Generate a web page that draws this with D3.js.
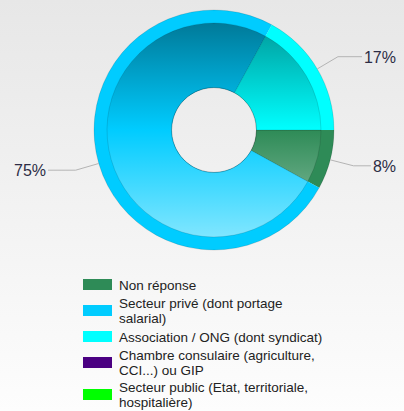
<!DOCTYPE html>
<html>
<head>
<meta charset="utf-8">
<script src="https://cdn.jsdelivr.net/npm/d3@7"></script>
<style>
  html, body { margin: 0; padding: 0; }
  body { width: 404px; height: 411px; overflow: hidden; }
  text { font-family: "Liberation Sans", Arial, sans-serif; }
</style>
</head>
<body>
<div id="chart"></div>
<script>
// Values
let categories = ["Non réponse", "Secteur privé (dont portage salarial)", "Association / ONG (dont syndicat)",
    "Chambre consulaire (agriculture, CCI...) ou GIP", "Secteur public (Etat, territoriale, hospitalière)"];
let values = [8, 75, 17, 0, 0];
let colors = ["#2e8b57", "#00ccff", "#00ffff", "#4b0082", "#00ff00"];
let legendLines = [
    ["Non réponse"],
    ["Secteur privé (dont portage", "salarial)"],
    ["Association / ONG (dont syndicat)"],
    ["Chambre consulaire (agriculture,", "CCI...) ou GIP"],
    ["Secteur public (Etat, territoriale,", "hospitalière)"]
];

let width = 404, height = 411;
let cx = 214, cy = 130, outerR = 120, rimR = 107, innerR = 42.5;

let svg = d3.select("#chart").append("svg")
    .attr("width", width)
    .attr("height", height);

let defs = svg.append("defs");

// Page background: soft grey gradient
let bg = defs.append("linearGradient").attr("id", "bg")
    .attr("x1", 0).attr("y1", 0).attr("x2", 0).attr("y2", 1);
bg.append("stop").attr("offset", 0).attr("stop-color", "#e7e7e7");
bg.append("stop").attr("offset", 1).attr("stop-color", "#fdfdfd");
svg.append("rect").attr("width", width).attr("height", height).attr("fill", "url(#bg)");

let data = categories.map((c, i) => ({ name: c, value: values[i], color: colors[i], lines: legendLines[i] }));

// One vertical gradient per slice (dark at the top, light at the bottom)
// coordinates are local to the translated pie group
data.forEach(function(d, i) {
    let g = defs.append("linearGradient").attr("id", `grad-${i}`)
        .attr("gradientUnits", "userSpaceOnUse")
        .attr("x1", 0).attr("y1", -rimR).attr("x2", 0).attr("y2", rimR);
    g.append("stop").attr("offset", 0).attr("stop-color", d3.interpolateRgb(d.color, "#000")(0.4));
    g.append("stop").attr("offset", 0.5).attr("stop-color", d.color);
    g.append("stop").attr("offset", 1).attr("stop-color", d3.interpolateRgb(d.color, "#fff")(0.5));
});

let pie = d3.pie()
    .sort(null)
    .value(d => d.value)
    .startAngle(Math.PI / 2)
    .endAngle(Math.PI / 2 + 2 * Math.PI);

let arcs = pie(data).filter(a => a.value > 0);

let outerArc = d3.arc().innerRadius(innerR).outerRadius(outerR);
let innerArc = d3.arc().innerRadius(innerR).outerRadius(rimR);

let pieG = svg.append("g").attr("transform", `translate(${cx}, ${cy})`);

// Rim in the base colour
pieG.selectAll("path.rim").data(arcs).enter()
    .append("path")
    .attr("class", "rim")
    .attr("d", outerArc)
    .attr("fill", d => d.data.color);

// Shaded inner part
pieG.selectAll("path.inner").data(arcs).enter()
    .append("path")
    .attr("class", "inner")
    .attr("d", innerArc)
    .attr("fill", d => `url(#grad-${data.indexOf(d.data)})`)
    .attr("stroke", "rgba(0,0,0,0.15)")
    .attr("stroke-width", 0.8);

// Thin outlines
pieG.append("circle").attr("r", outerR).attr("fill", "none")
    .attr("stroke", "rgba(0,0,0,0.12)").attr("stroke-width", 1);
pieG.append("circle").attr("r", innerR).attr("fill", "none")
    .attr("stroke", "rgba(0,0,0,0.2)").attr("stroke-width", 1);

// Percentage labels with elbow leader lines
let labelG = svg.append("g");
arcs.forEach(function(a) {
    let mid = (a.startAngle + a.endAngle) / 2;
    let sx = Math.sin(mid), sy = -Math.cos(mid);
    let p0 = [cx + outerR * sx, cy + outerR * sy];
    let p1 = [cx + 144 * sx, cy + 144 * sy];
    let right = sx > 0;
    let txt = labelG.append("text")
        .attr("x", right ? 396 : 14)
        .attr("y", p1[1] + 6)
        .attr("text-anchor", right ? "end" : "start")
        .attr("font-size", 16)
        .attr("fill", "#2d2d45")
        .text(Math.round(a.value) + "%");
    let tw = txt.node().getComputedTextLength();
    let xEnd = right ? 396 - tw - 2 : 14 + tw + 2;
    labelG.append("polyline")
        .attr("points", [p0, p1, [xEnd, p1[1]]].map(p => p.join(",")).join(" "))
        .attr("fill", "none")
        .attr("stroke", "#b4b4b4")
        .attr("stroke-width", 1);
});

// Legend
let lineH = 14.5;
let legend = svg.append("g");
let centerY = 284.5, prevH = null;
data.forEach(function(d, i) {
    let h = d.lines.length === 1 ? 20 : 32;
    if (prevH !== null) centerY += (prevH + h) / 2;
    prevH = h;
    let item = legend.append("g");
    item.append("rect")
        .attr("x", 83).attr("y", centerY - 5.5)
        .attr("width", 29).attr("height", 11)
        .attr("fill", d.color);
    let firstBase = centerY + 5 - (d.lines.length - 1) * lineH / 2;
    item.selectAll("text").data(d.lines).enter()
        .append("text")
        .attr("x", 119)
        .attr("y", (l, j) => firstBase + j * lineH)
        .attr("font-size", 13.5)
        .attr("fill", "#222")
        .text(l => l);
});
</script>
</body>
</html>
